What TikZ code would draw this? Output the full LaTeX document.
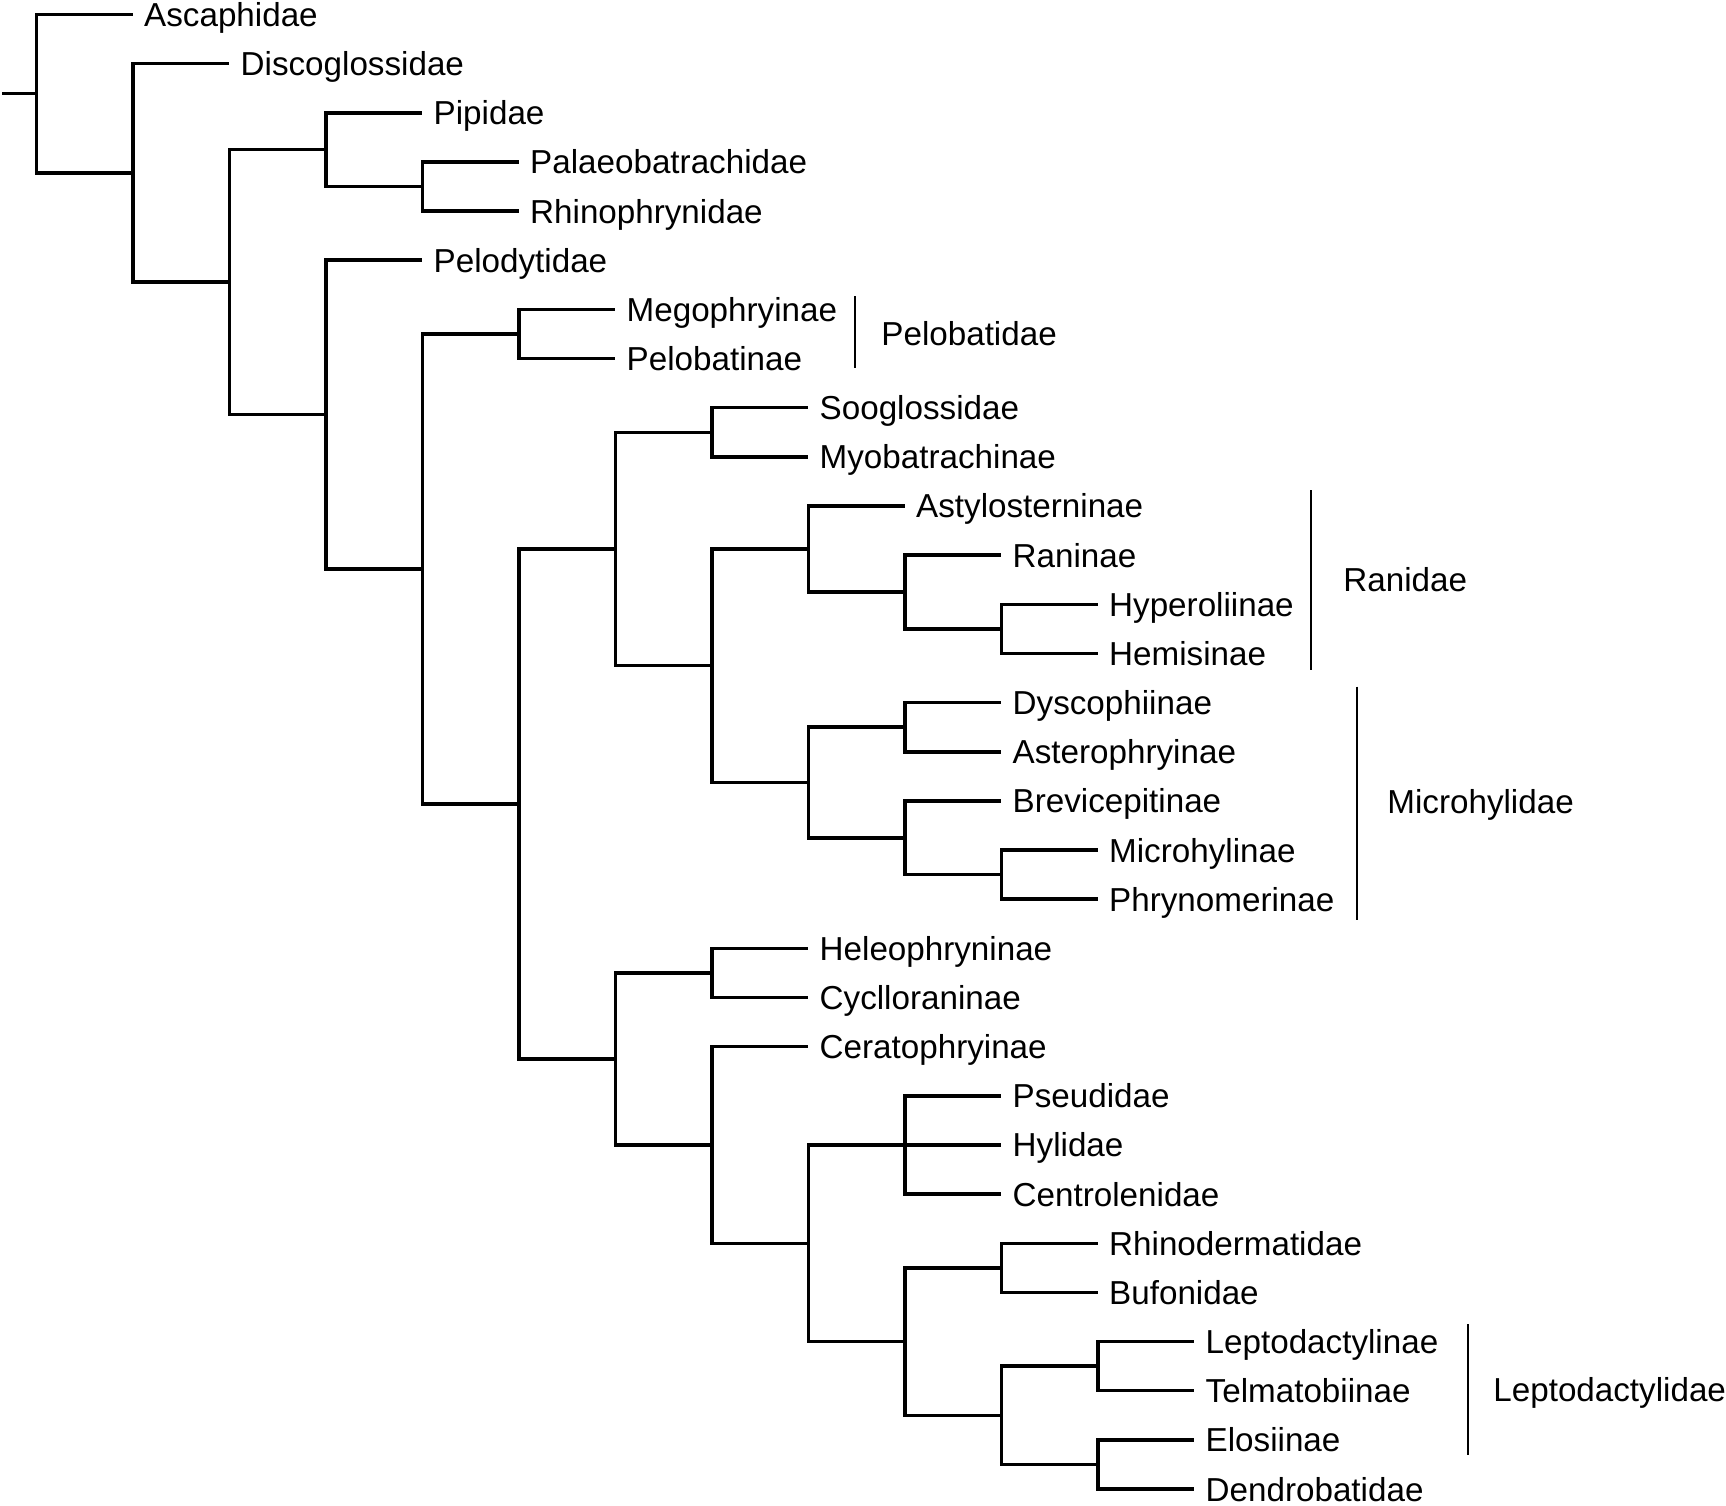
\documentclass[tikz,border=0pt]{standalone}
\usepackage{fontspec}
\setmainfont{Liberation Sans}
\begin{document}
\begin{tikzpicture}[x=0.5pt,y=-0.5pt,
  br/.style={line width=1.75pt, line join=miter},
  bar/.style={line width=1.4pt},
  leaf/.style={anchor=west, inner xsep=5.5pt, inner ysep=0pt, text height=12pt, text depth=0pt, font=\fontsize{16.6}{20}\selectfont},
  grp/.style={anchor=west, inner sep=0pt, text height=12pt, text depth=0pt, font=\fontsize{16.6}{20}\selectfont}]
\useasboundingbox (0,0) rectangle (1726,1506);
\begin{scope}[yscale=0.998]
% leaves
\node[leaf] (Ascaphidae) at (132.8,14.5) {Ascaphidae};
\node[leaf] (Discoglossidae) at (229.3,63.75) {Discoglossidae};
\node[leaf] (Pipidae) at (422.3,113) {Pipidae};
\node[leaf] (Palaeobatrachidae) at (518.8,162.25) {Palaeobatrachidae};
\node[leaf] (Rhinophrynidae) at (518.8,211.5) {Rhinophrynidae};
\node[leaf] (Pelodytidae) at (422.3,260.75) {Pelodytidae};
\node[leaf] (Megophryinae) at (615.3,310) {Megophryinae};
\node[leaf] (Pelobatinae) at (615.3,359.25) {Pelobatinae};
\node[leaf] (Sooglossidae) at (808.3,408.5) {Sooglossidae};
\node[leaf] (Myobatrachinae) at (808.3,457.75) {Myobatrachinae};
\node[leaf] (Astylosterninae) at (904.8,507) {Astylosterninae};
\node[leaf] (Raninae) at (1001.3,556.25) {Raninae};
\node[leaf] (Hyperoliinae) at (1097.8,605.5) {Hyperoliinae};
\node[leaf] (Hemisinae) at (1097.8,654.75) {Hemisinae};
\node[leaf] (Dyscophiinae) at (1001.3,704) {Dyscophiinae};
\node[leaf] (Asterophryinae) at (1001.3,753.25) {Asterophryinae};
\node[leaf] (Brevicepitinae) at (1001.3,802.5) {Brevicepitinae};
\node[leaf] (Microhylinae) at (1097.8,851.75) {Microhylinae};
\node[leaf] (Phrynomerinae) at (1097.8,901) {Phrynomerinae};
\node[leaf] (Heleophryninae) at (808.3,950.25) {Heleophryninae};
\node[leaf] (Cyclloraninae) at (808.3,999.5) {Cyclloraninae};
\node[leaf] (Ceratophryinae) at (808.3,1048.75) {Ceratophryinae};
\node[leaf] (Pseudidae) at (1001.3,1098) {Pseudidae};
\node[leaf] (Hylidae) at (1001.3,1147.25) {Hylidae};
\node[leaf] (Centrolenidae) at (1001.3,1196.5) {Centrolenidae};
\node[leaf] (Rhinodermatidae) at (1097.8,1245.75) {Rhinodermatidae};
\node[leaf] (Bufonidae) at (1097.8,1295) {Bufonidae};
\node[leaf] (Leptodactylinae) at (1194.3,1344.25) {Leptodactylinae};
\node[leaf] (Telmatobiinae) at (1194.3,1393.5) {Telmatobiinae};
\node[leaf] (Elosiinae) at (1194.3,1442.75) {Elosiinae};
\node[leaf] (Dendrobatidae) at (1194.3,1492) {Dendrobatidae};
% internal nodes
\coordinate (stub) at (2,93.86);
\coordinate (R) at (36.3,93.86);
\coordinate (N1) at (132.8,173.22);
\coordinate (N2) at (229.3,282.69);
\coordinate (N3a) at (325.8,149.94);
\coordinate (N4a) at (422.3,186.875);
\coordinate (N3b) at (325.8,415.43);
\coordinate (N4b) at (422.3,570.1);
\coordinate (N5a) at (518.8,334.625);
\coordinate (N5b) at (518.8,805.58);
\coordinate (N6a) at (615.3,550.09);
\coordinate (N6b) at (615.3,1061.06);
\coordinate (N7a) at (711.8,433.125);
\coordinate (N7b) at (711.8,667.06);
\coordinate (N8a) at (808.3,550.09);
\coordinate (N9a) at (904.8,593.19);
\coordinate (N10a) at (1001.3,630.125);
\coordinate (N8b) at (808.3,784.03);
\coordinate (N9b) at (904.8,728.625);
\coordinate (N9c) at (904.8,839.44);
\coordinate (N10b) at (1001.3,876.375);
\coordinate (N7c) at (711.8,974.875);
\coordinate (N7d) at (711.8,1147.25);
\coordinate (N8c) at (808.3,1245.75);
\coordinate (N9d) at (904.8,1147.25);
\coordinate (N9e) at (904.8,1344.25);
\coordinate (N10c) at (1001.3,1270.375);
\coordinate (N10d) at (1001.3,1418.125);
\coordinate (N11a) at (1097.8,1368.875);
\coordinate (N11b) at (1097.8,1467.375);
% branches
\draw[br] (stub) -- (R);
\draw[br] (R) |- (Ascaphidae.west);
\draw[br] (R) |- (N1);
\draw[br] (N1) |- (Discoglossidae.west);
\draw[br] (N1) |- (N2);
\draw[br] (N2) |- (N3a);
\draw[br] (N2) |- (N3b);
\draw[br] (N3a) |- (Pipidae.west);
\draw[br] (N3a) |- (N4a);
\draw[br] (N4a) |- (Palaeobatrachidae.west);
\draw[br] (N4a) |- (Rhinophrynidae.west);
\draw[br] (N3b) |- (Pelodytidae.west);
\draw[br] (N3b) |- (N4b);
\draw[br] (N4b) |- (N5a);
\draw[br] (N4b) |- (N5b);
\draw[br] (N5a) |- (Megophryinae.west);
\draw[br] (N5a) |- (Pelobatinae.west);
\draw[br] (N5b) |- (N6a);
\draw[br] (N5b) |- (N6b);
\draw[br] (N6a) |- (N7a);
\draw[br] (N6a) |- (N7b);
\draw[br] (N7a) |- (Sooglossidae.west);
\draw[br] (N7a) |- (Myobatrachinae.west);
\draw[br] (N7b) |- (N8a);
\draw[br] (N7b) |- (N8b);
\draw[br] (N8a) |- (Astylosterninae.west);
\draw[br] (N8a) |- (N9a);
\draw[br] (N9a) |- (Raninae.west);
\draw[br] (N9a) |- (N10a);
\draw[br] (N10a) |- (Hyperoliinae.west);
\draw[br] (N10a) |- (Hemisinae.west);
\draw[br] (N8b) |- (N9b);
\draw[br] (N8b) |- (N9c);
\draw[br] (N9b) |- (Dyscophiinae.west);
\draw[br] (N9b) |- (Asterophryinae.west);
\draw[br] (N9c) |- (Brevicepitinae.west);
\draw[br] (N9c) |- (N10b);
\draw[br] (N10b) |- (Microhylinae.west);
\draw[br] (N10b) |- (Phrynomerinae.west);
\draw[br] (N6b) |- (N7c);
\draw[br] (N6b) |- (N7d);
\draw[br] (N7c) |- (Heleophryninae.west);
\draw[br] (N7c) |- (Cyclloraninae.west);
\draw[br] (N7d) |- (Ceratophryinae.west);
\draw[br] (N7d) |- (N8c);
\draw[br] (N8c) |- (N9d);
\draw[br] (N8c) |- (N9e);
\draw[br] (N9d) |- (Pseudidae.west);
\draw[br] (N9d) |- (Hylidae.west);
\draw[br] (N9d) |- (Centrolenidae.west);
\draw[br] (N9e) |- (N10c);
\draw[br] (N9e) |- (N10d);
\draw[br] (N10c) |- (Rhinodermatidae.west);
\draw[br] (N10c) |- (Bufonidae.west);
\draw[br] (N10d) |- (N11a);
\draw[br] (N10d) |- (N11b);
\draw[br] (N11a) |- (Leptodactylinae.west);
\draw[br] (N11a) |- (Telmatobiinae.west);
\draw[br] (N11b) |- (Elosiinae.west);
\draw[br] (N11b) |- (Dendrobatidae.west);
% group brackets
\coordinate (pbA) at (855,297); \coordinate (pbB) at (855,369);
\draw[bar] (pbA) -- (pbB);
\node[grp] (Pelobatidae) at (881,334) {Pelobatidae};
\coordinate (raA) at (1311,491); \coordinate (raB) at (1311,671);
\draw[bar] (raA) -- (raB);
\node[grp] (Ranidae) at (1343,581) {Ranidae};
\coordinate (miA) at (1357,688); \coordinate (miB) at (1357,922);
\draw[bar] (miA) -- (miB);
\node[grp] (Microhylidae) at (1387,803) {Microhylidae};
\coordinate (leA) at (1468,1327); \coordinate (leB) at (1468,1458);
\draw[bar] (leA) -- (leB);
\node[grp] (Leptodactylidae) at (1493,1392) {Leptodactylidae};
\end{scope}
\end{tikzpicture}
\end{document}
